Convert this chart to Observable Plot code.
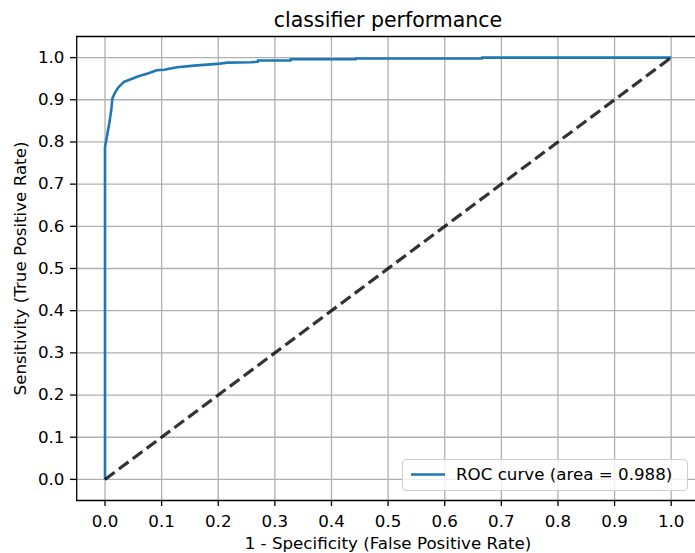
<!DOCTYPE html>
<html>
<head>
<meta charset="utf-8">
<script src="https://cdn.jsdelivr.net/npm/d3@7"></script>
<script src="https://cdn.jsdelivr.net/npm/@observablehq/plot@0.6"></script>
<style>
  html, body { margin: 0; padding: 0; background: white; overflow: hidden; }
  #wrap { position: relative; width: 695px; height: 553px; overflow: hidden; font-family: "DejaVu Sans", sans-serif; }
  #legend {
    position: absolute; left: 402px; top: 459px; width: 286px; height: 32px;
    box-sizing: border-box; border: 1px solid #cccccc; border-radius: 4px;
    background: rgba(255,255,255,0.8);
  }
  #legend svg { position: absolute; left: 4px; top: 0px; }
  #legend span { position: absolute; left: 53px; top: 4px; font-size: 16.7px; color: #000; white-space: pre; line-height: 20px; }
</style>
</head>
<body>
<div id="wrap"></div>
<script>
// ROC curve points (false positive rate, true positive rate)
const fpr = [0, 0, 0.003, 0.0074, 0.011, 0.013, 0.018, 0.024, 0.033, 0.0445, 0.059, 0.077, 0.0915, 0.104, 0.1275, 0.157, 0.198, 0.216, 0.257, 0.27, 0.27, 0.328, 0.328, 0.443, 0.443, 0.666, 0.666, 1.0];
const tpr = [0, 0.788, 0.81, 0.843, 0.875, 0.903, 0.918, 0.930, 0.942, 0.948, 0.9556, 0.963, 0.970, 0.971, 0.977, 0.981, 0.985, 0.988, 0.989, 0.990, 0.993, 0.993, 0.996, 0.996, 0.998, 0.998, 1.0, 1.0];
// chance diagonal
const diagX = [0, 1];
const diagY = [0, 1];
// ticks
const xTicks = [0.0, 0.1, 0.2, 0.3, 0.4, 0.5, 0.6, 0.7, 0.8, 0.9, 1.0];
const yTicks = [0.0, 0.1, 0.2, 0.3, 0.4, 0.5, 0.6, 0.7, 0.8, 0.9, 1.0];
const xLimits = [-0.05, 1.05];
const yLimits = [-0.05, 1.05];
const auc = 0.988;
const titleText = "classifier performance";
const xLabel = "1 - Specificity (False Positive Rate)";
const yLabel = "Sensitivity (True Positive Rate)";
const legendLabel = `ROC curve (area = ${auc.toFixed(3)})`;

const roc = fpr.map((f, i) => ({x: f, y: tpr[i]}));
const diag = diagX.map((d, i) => ({x: d, y: diagY[i]}));

const chart = Plot.plot({
  width: 695,
  height: 553,
  marginLeft: 76,
  marginRight: 0,
  marginTop: 36,
  marginBottom: 53,
  style: {fontFamily: "DejaVu Sans", fontSize: "16.7px", color: "black", background: "white"},
  x: {domain: xLimits, range: [76.2, 699]},
  y: {domain: yLimits},
  marks: [
    Plot.gridX(xTicks, {stroke: "#b0b0b0", strokeOpacity: 1, strokeWidth: 1.3}),
    Plot.gridY(yTicks, {stroke: "#b0b0b0", strokeOpacity: 1, strokeWidth: 1.3}),
    Plot.axisX(xTicks, {tickFormat: d3.format(".1f"), tickSize: 6, tickPadding: 8.5, strokeWidth: 1.3, fontSize: 16.7, label: null}),
    Plot.axisY(yTicks, {tickFormat: d3.format(".1f"), tickSize: 6, tickPadding: 6, strokeWidth: 1.3, fontSize: 16.7, label: null}),
    Plot.ruleY([yLimits[0]], {stroke: "black", strokeWidth: 1.3}),
    Plot.ruleY([yLimits[1]], {stroke: "black", strokeWidth: 1.3}),
    Plot.ruleX([xLimits[0]], {stroke: "black", strokeWidth: 1.3}),
    Plot.line(roc, {x: "x", y: "y", stroke: "#1f77b4", strokeWidth: 2.6, strokeLinejoin: "round", strokeLinecap: "butt", curve: "linear"}),
    Plot.line(diag, {x: "x", y: "y", stroke: "black", strokeOpacity: 0.8, strokeWidth: 3.2, strokeDasharray: "12,5.3", strokeLinecap: "butt"}),
    Plot.text([titleText], {frameAnchor: "top", textAnchor: "middle", dx: 2, dy: -10, lineAnchor: "bottom", fontSize: 20.5, fill: "black"}),
    Plot.text([xLabel], {frameAnchor: "bottom", textAnchor: "middle", dx: 2, dy: 48, lineAnchor: "bottom", fontSize: 16.7, fill: "black"}),
    Plot.text([yLabel], {frameAnchor: "left", textAnchor: "middle", dx: -51, dy: 0, rotate: -90, lineAnchor: "bottom", fontSize: 16.7, fill: "black"})
  ]
});

const wrap = document.getElementById("wrap");
wrap.appendChild(chart);

const legend = document.createElement("div");
legend.id = "legend";
legend.innerHTML = `<svg width="40" height="30"><line x1="4" x2="38" y1="14.5" y2="14.5" stroke="#1f77b4" stroke-width="2.6"/></svg><span></span>`;
legend.querySelector("span").textContent = legendLabel;
wrap.appendChild(legend);
</script>
</body>
</html>
